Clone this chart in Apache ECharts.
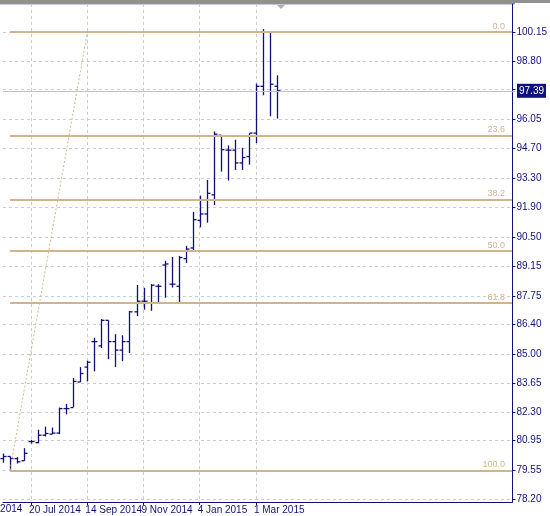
<!DOCTYPE html>
<html><head><meta charset="utf-8">
<script src="https://cdn.jsdelivr.net/npm/echarts@6/dist/echarts.min.js"></script>
<style>html,body{margin:0;padding:0;background:#fff}#c{width:550px;height:516px}</style>
</head><body><div id="c"></div>
<script>
// weekly OHLC bars, index 0 = week of 22 Jun 2014
const opens  = [80.1,80.2,80.1,80.0,80.9,80.85,81.2,81.25,81.3,82.45,82.5,83.7,84.4,85.6,85.4,86.6,85.6,85.2,85.6,87.0,87.5,87.4,88.2,89.2,88.3,88.2,89.5,90.0,91.3,91.6,92.5,95.3,94.6,94.6,94.0,94.3,95.4,97.6,100.15,97.6];
const highs  = [80.34,80.2,80.17,80.59,80.98,81.46,81.6,81.56,82.5,82.67,83.89,84.4,84.7,85.78,86.66,86.6,85.95,85.9,87.04,88.26,88.13,88.3,88.3,89.4,89.58,89.63,90.1,91.7,92.46,93.2,95.48,95.29,94.82,95.09,94.71,95.4,97.73,100.29,100.2,98.12];
const lows   = [79.91,79.55,79.87,80.0,80.81,80.82,81.14,81.25,81.25,82.18,82.52,83.7,83.73,84.2,85.3,84.77,84.4,84.68,85.06,86.8,87.1,87.05,87.43,87.66,88.14,87.45,89.3,89.9,90.97,91.19,92.02,93.59,93.17,93.67,93.67,93.92,94.93,97.18,96.19,96.08];
const closes = [80.2,80.1,79.95,80.35,80.9,81.2,81.28,81.3,82.45,82.45,83.73,84.1,84.63,85.6,86.6,85.6,85.2,85.6,87.0,87.5,87.5,88.25,88.2,89.25,88.3,89.55,89.95,91.33,91.6,92.57,95.35,94.62,94.6,94.0,94.25,95.4,97.6,100.17,97.7,97.39];
const dateTicks = [4,12,20,28,36];
const dateNames = ['20 Jul 2014','14 Sep 2014','9 Nov 2014','4 Jan 2015','1 Mar 2015'];
const priceTicks = [78.20,79.55,80.95,82.30,83.65,85.00,86.40,87.75,89.15,90.50,91.90,93.30,94.70,96.05,97.45,98.80,100.15];
const priceLabels = [78.20,79.55,80.95,82.30,83.65,85.00,86.40,87.75,89.15,90.50,91.90,93.30,94.70,96.05,98.80,100.15];
const fibNames = ['0.0','23.6','38.2','50.0','61.8','100.0'];
const fibValues = [100.15,95.29,92.28,89.85,87.42,79.55];
const currentPrice = 97.39;

const NAVY='#10107a', TAN='#d2b48c', FONT='Liberation Sans';
const data = opens.map((o,i)=>[i,o,highs[i],lows[i],closes[i]]);

const fibLines = fibValues.map((v,k)=>[
  {coord:[1,v], label:{formatter:fibNames[k]}},
  {x:512,yAxis:v}
]);

const chart = echarts.init(document.getElementById('c'));
chart.setOption({
  animation:false,
  grid:{left:3,right:35,top:4,bottom:14,containLabel:false},
  graphic:[
    {type:'rect',shape:{x:0,y:0,width:550,height:3},style:{fill:'#909090'}},
    {type:'rect',shape:{x:0,y:3,width:515,height:1.5},style:{fill:'#8c8cc8'}},
    {type:'polygon',shape:{points:[[277,5],[285,5],[281,9]]},style:{fill:'#b0b0b0'}},
    {type:'text',x:-6,y:504,style:{text:'r 2014',fill:NAVY,font:'10px '+FONT}}
  ],
  xAxis:{type:'value',min:0,max:72.5,interval:4,
    axisLine:{show:true,onZero:false,lineStyle:{color:NAVY}},
    axisTick:{show:true,customValues:dateTicks,length:3,lineStyle:{color:NAVY}},
    axisLabel:{customValues:dateTicks,formatter:v=>dateNames[dateTicks.indexOf(Math.round(v))]||'',
      showMinLabel:true,showMaxLabel:true,hideOverlap:false,
      color:NAVY,fontFamily:FONT,fontSize:10,align:'left',margin:3,padding:[0,0,0,-2]},
    splitLine:{show:true,lineStyle:{color:'#cccccc',type:[3,3]}}},
  yAxis:{type:'value',position:'right',min:78.06,max:101.47,scale:true,
    axisLine:{show:true,onZero:false,lineStyle:{color:NAVY}},
    axisTick:{show:true,customValues:priceTicks,length:3,lineStyle:{color:NAVY}},
    axisLabel:{customValues:priceLabels,formatter:v=>v.toFixed(2),color:NAVY,fontFamily:FONT,fontSize:10,margin:4},
    splitLine:{show:true,lineStyle:{color:'#cccccc',type:[3,3]}}},
  series:[
    {type:'custom',data:data,clip:false,
      encode:{x:0,y:[1,2,3,4]},
      renderItem:(params,api)=>{
        const x=api.value(0);
        const h=api.coord([x,api.value(2)]), l=api.coord([x,api.value(3)]);
        const o=api.coord([x,api.value(1)]), c=api.coord([x,api.value(4)]);
        const st={stroke:NAVY,lineWidth:1.3};
        const px=Math.round(h[0])+0.5;
        return {type:'group',children:[
          {type:'line',shape:{x1:px,y1:h[1],x2:px,y2:l[1]},style:st},
          {type:'line',shape:{x1:px-3,y1:o[1],x2:px,y2:o[1]},style:st},
          {type:'line',shape:{x1:px,y1:c[1],x2:px+3,y2:c[1]},style:st}
        ]};
      },
      markLine:{symbol:'none',silent:true,
        lineStyle:{color:TAN,width:2,type:'solid'},
        label:{position:'insideEndTop',color:TAN,fontFamily:FONT,fontSize:9,distance:[0,1],padding:[0,7,0,0]},
        data:fibLines.concat([
          [{coord:[1,79.55],lineStyle:{type:[2,2],width:1},label:{show:false}},{coord:[12,100.15]}],
          [{yAxis:currentPrice,x:3,lineStyle:{color:'#c0c0c0',width:1,type:'solid'},
            label:{show:true,position:'end',formatter:currentPrice.toFixed(2),color:'#fff',
              backgroundColor:NAVY,padding:[2,2],fontSize:10,distance:2}},{yAxis:currentPrice,x:515}]
        ])}
    }
  ]
});
</script></body></html>
